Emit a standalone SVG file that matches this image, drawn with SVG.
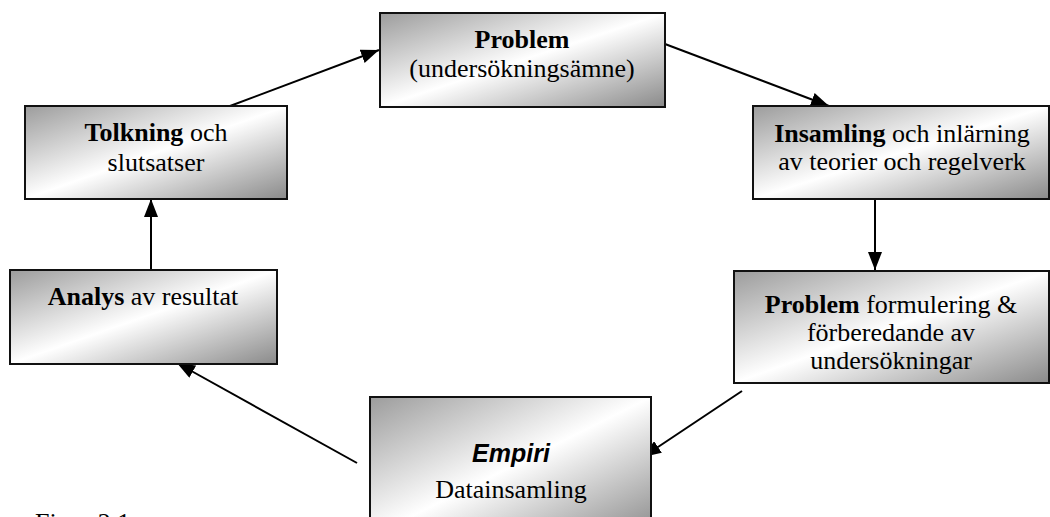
<svg xmlns="http://www.w3.org/2000/svg" width="1050" height="517" viewBox="0 0 1050 517">
  <defs>
    <linearGradient id="boxFill" x1="0" y1="0" x2="1" y2="1">
      <stop offset="0" stop-color="#9c9c9c"/>
      <stop offset="0.5" stop-color="#ffffff"/>
      <stop offset="1" stop-color="#8a8a8a"/>
    </linearGradient>
    <marker id="arrow" viewBox="0 0 18 14" refX="18" refY="7" markerWidth="18" markerHeight="14" markerUnits="userSpaceOnUse" orient="auto">
      <path d="M0,0 L18,7 L0,14 Z" fill="#000"/>
    </marker>
    <style>
      .box { fill: url(#boxFill); stroke: #111; stroke-width: 2; }
      .t { font-family: "Liberation Serif", "Times New Roman", serif; font-size: 26px; fill: #000; text-anchor: middle; }
      .b { font-weight: bold; }
      .em { font-family: "Liberation Sans", Arial, sans-serif; font-weight: bold; font-style: italic; font-size: 25px; }
      .cap { text-anchor: start; }
      .link { fill: none; stroke: #000; stroke-width: 2; marker-end: url(#arrow); }
    </style>
  </defs>

  <rect width="1050" height="517" fill="#fff"/>

  <g id="connectors">
    <line class="link" x1="230" y1="106" x2="379" y2="50"/>
    <line class="link" x1="665" y1="44" x2="829" y2="106"/>
    <line class="link" x1="875" y1="199" x2="875" y2="270"/>
    <line class="link" x1="742" y1="391" x2="643" y2="457"/>
    <line class="link" x1="357" y1="463" x2="177" y2="363"/>
    <line class="link" x1="151" y1="270" x2="151" y2="199"/>
  </g>

  <g id="problem">
    <rect class="box" x="380" y="13" width="285" height="94"/>
    <text class="t" x="522" y="48"><tspan class="b">Problem</tspan></text>
    <text class="t" x="522" y="77">(undersökningsämne)</text>
  </g>

  <g id="insamling">
    <rect class="box" x="753" y="106" width="296" height="93"/>
    <text class="t" x="902" y="142"><tspan class="b">Insamling</tspan> och inlärning</text>
    <text class="t" x="902" y="170">av teorier och regelverk</text>
  </g>

  <g id="formulering">
    <rect class="box" x="734" y="271" width="315" height="112"/>
    <text class="t" x="891" y="313"><tspan class="b">Problem</tspan> formulering &amp;</text>
    <text class="t" x="891" y="341">förberedande av</text>
    <text class="t" x="891" y="369">undersökningar</text>
  </g>

  <g id="empiri">
    <rect class="box" x="370" y="397" width="281" height="140"/>
    <text class="t em" x="511" y="462">Empiri</text>
    <text class="t" x="511" y="498">Datainsamling</text>
  </g>

  <g id="analys">
    <rect class="box" x="10" y="270" width="267" height="94"/>
    <text class="t" x="143" y="305"><tspan class="b">Analys</tspan> av resultat</text>
  </g>

  <g id="tolkning">
    <rect class="box" x="25" y="106" width="262" height="93"/>
    <text class="t" x="156" y="141"><tspan class="b">Tolkning</tspan> och</text>
    <text class="t" x="156" y="171">slutsatser</text>
  </g>

  <!-- caption runs past the bottom edge of the page -->
  <text class="t cap" x="35" y="531">Figur 2.1</text>
</svg>
